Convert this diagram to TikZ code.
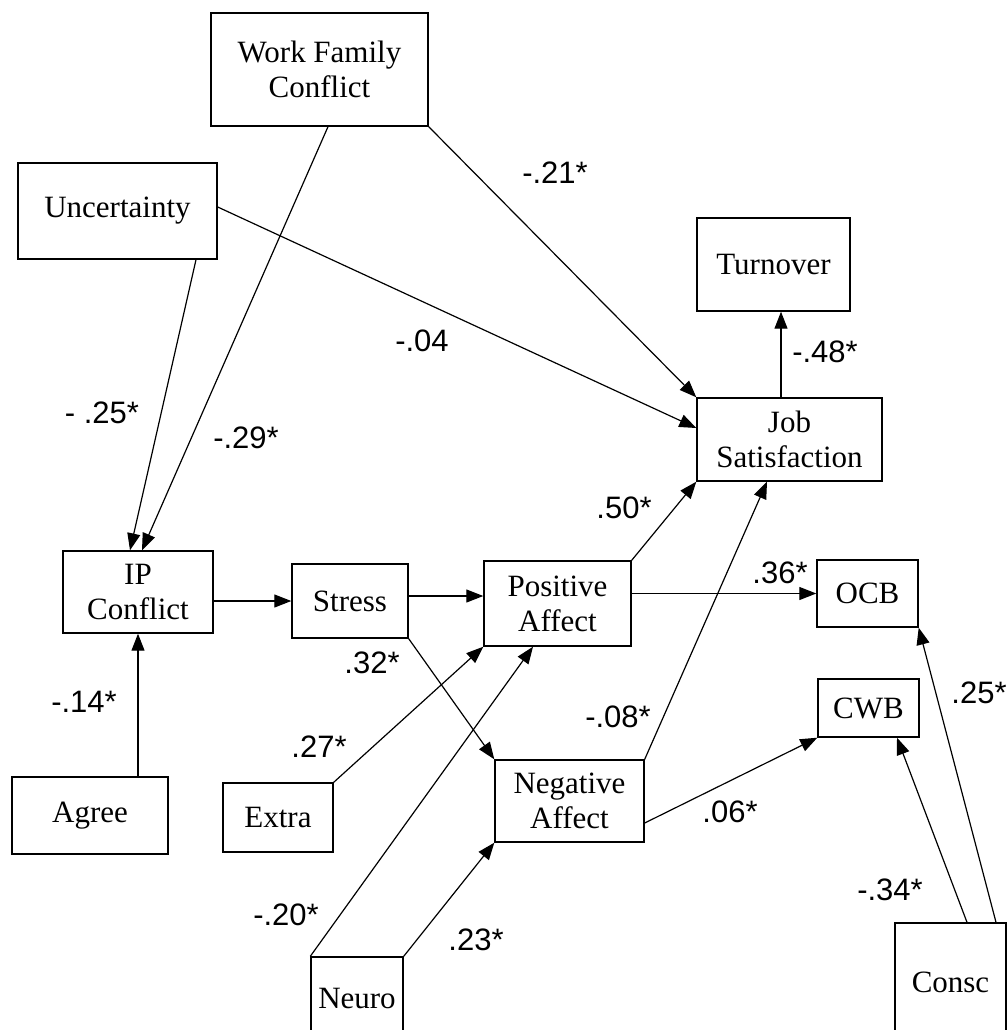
\documentclass[tikz,border=0pt]{standalone}
\usepackage{fontspec}
\setmainfont{Liberation Serif}
\newfontfamily\labfont{Liberation Sans}
\usetikzlibrary{arrows.meta}
\begin{document}
\begin{tikzpicture}[x=1pt,y=-1pt,
  box/.style={draw, line width=1.4pt, inner sep=0pt, align=center, font=\fontsize{31}{35}\selectfont},
  conn/.style={line width=1.2pt, -{Triangle[length=17pt,width=13pt]}},
  lab/.style={font=\labfont\fontsize{31}{34}\selectfont, inner sep=0pt}]
\useasboundingbox (0,0) rectangle (1008,1030);
\clip (0,0) rectangle (1008,1030);
% boxes
\node[box, minimum width=217pt, minimum height=113pt] (wfc) at (319.5,69.5) {Work Family\\Conflict};
\node[box, minimum width=199pt, minimum height=96pt] (unc) at (117.5,211) {Uncertainty};
\node[box, minimum width=153pt, minimum height=93pt] (turn) at (773.5,264.5) {Turnover};
\node[box, minimum width=185pt, minimum height=83pt] (js) at (789.5,439.5) {Job\\Satisfaction};
\node[box, minimum width=150pt, minimum height=82pt] (ip) at (138,592) {IP\\Conflict};
\node[box, minimum width=116pt, minimum height=74pt] (stress) at (350,601) {Stress};
\node[box, minimum width=147pt, minimum height=85pt] (pa) at (557.5,603.5) {Positive\\Affect};
\node[box, minimum width=101pt, minimum height=67pt] (ocb) at (867.5,593.5) {OCB};
\node[box, minimum width=101pt, minimum height=58pt] (cwb) at (868.5,708) {CWB};
\node[box, minimum width=149pt, minimum height=82pt] (na) at (569.5,801) {Negative\\Affect};
\node[box, minimum width=156pt, minimum height=77pt] (agree) at (90,815.5) {Agree};
\node[box, minimum width=110pt, minimum height=69pt] (extra) at (278,817.5) {Extra};
\node[box, minimum width=92pt, minimum height=82pt] (neuro) at (357,998) {Neuro};
\node[box, minimum width=111pt, minimum height=118pt] (consc) at (950.5,982) {Consc};
% connectors
\draw[conn] ([xshift=78.5pt]unc.south) -- ([xshift=-8pt]ip.north);
\draw[conn] ([xshift=8.5pt]wfc.south) -- ([xshift=4pt]ip.north);
\draw[conn] (wfc.south east) -- (js.north west);
\draw[conn] ([yshift=4pt]unc.east) -- ([yshift=11.5pt]js.west);
\draw[conn] ([xshift=-8.5pt]js.north) -- ([xshift=-8.5pt]js.north |- turn.south);
\draw[conn] (ip.east |- stress.west) -- (stress.west);
\draw[conn] ([yshift=5pt]stress.east) -- ([yshift=5pt]stress.east -| pa.west);
\draw[conn] (pa.north east) -- (js.south west);
\draw[conn] (pa.east |- ocb.west) -- (ocb.west);
\draw[conn] (stress.south east) -- (na.north west);
\draw[conn] (extra.north east) -- (pa.south west);
\draw[conn] (neuro.north west) -- ([xshift=-24.5pt]pa.south);
\draw[conn] (neuro.north east) -- (na.south west);
\draw[conn] (na.north east) -- ([xshift=-22.5pt]js.south);
\draw[conn] ([yshift=-22pt]na.east) -- (cwb.south west);
\draw[conn] (ip.south |- agree.north) -- (ip.south);
\draw[conn] ([xshift=16.5pt]consc.north) -- ([xshift=28.5pt]cwb.south);
\draw[conn] ([xshift=45.5pt]consc.north) -- (ocb.south east);
% labels
\node[lab] (l1) at (555,173) {-.21*};
\node[lab] (l2) at (422,341) {-.04};
\node[lab] (l3) at (102,413) {- .25*};
\node[lab] (l4) at (246,438) {-.29*};
\node[lab] (l5) at (825,352) {-.48*};
\node[lab] (l6) at (624,508) {.50*};
\node[lab] (l7) at (780,573) {.36*};
\node[lab] (l8) at (372,663) {.32*};
\node[lab] (l9) at (84,702) {-.14*};
\node[lab] (l10) at (618,717) {-.08*};
\node[lab] (l11) at (319,747) {.27*};
\node[lab] (l12) at (979,693) {.25*};
\node[lab] (l13) at (730,812) {.06*};
\node[lab] (l14) at (890,890) {-.34*};
\node[lab] (l15) at (286,915) {-.20*};
\node[lab] (l16) at (476,940) {.23*};
\end{tikzpicture}
\end{document}
